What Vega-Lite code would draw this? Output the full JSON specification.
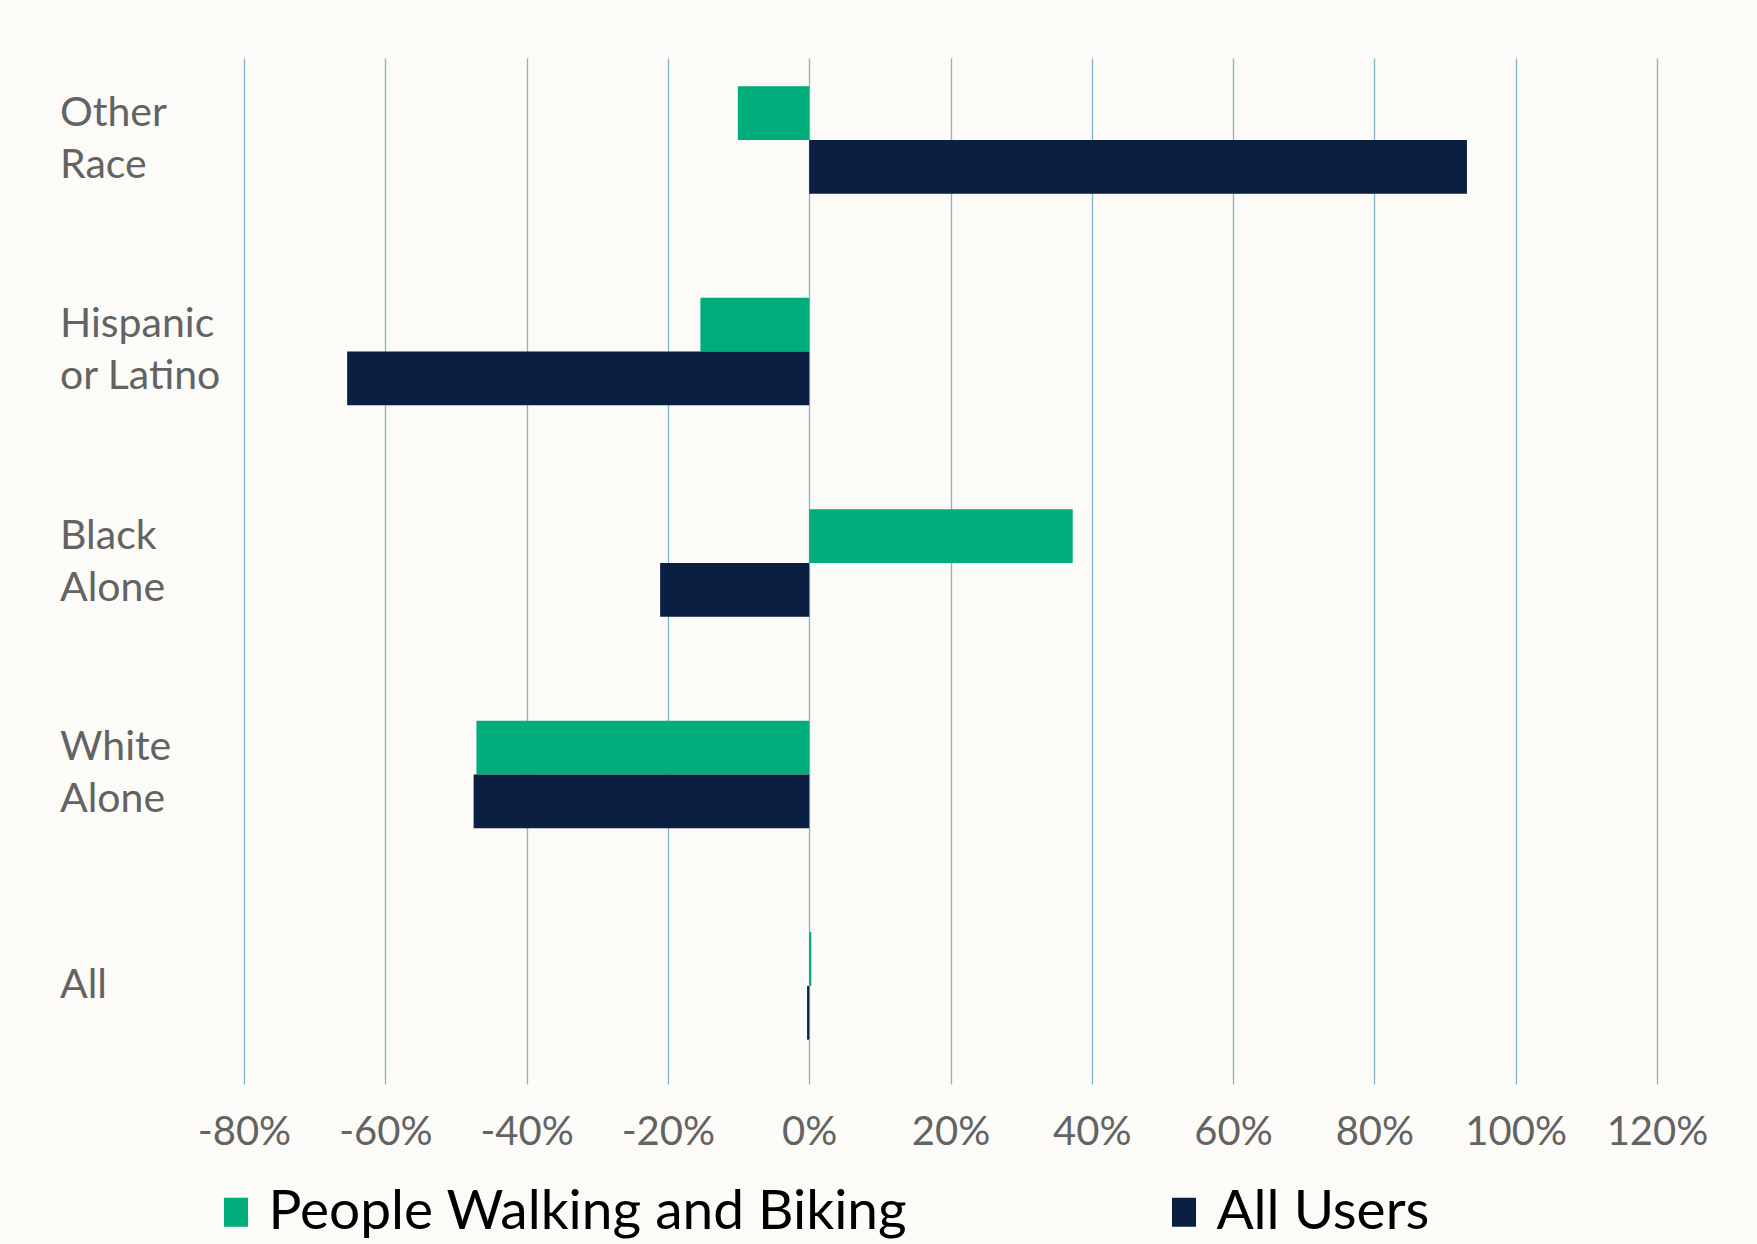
{
  "$schema": "https://vega.github.io/schema/vega-lite/v6.json",
  "autosize": {"type": "none"},
  "width": 1413,
  "height": 1026,
  "padding": {"left": 244, "top": 58, "right": 100, "bottom": 160},
  "background": "#fcfbf7",
  "config": {
    "view": {"stroke": null},
    "font": "Lato"
  },
  "data": {
    "values": [
      {"group": "Other Race", "series": "People Walking and Biking", "value": -10.1},
      {"group": "Other Race", "series": "All Users", "value": 93.1},
      {"group": "Hispanic or Latino", "series": "People Walking and Biking", "value": -15.4},
      {"group": "Hispanic or Latino", "series": "All Users", "value": -65.4},
      {"group": "Black Alone", "series": "People Walking and Biking", "value": 37.3},
      {"group": "Black Alone", "series": "All Users", "value": -21.1},
      {"group": "White Alone", "series": "People Walking and Biking", "value": -47.1},
      {"group": "White Alone", "series": "All Users", "value": -47.5},
      {"group": "All", "series": "People Walking and Biking", "value": 0.3},
      {"group": "All", "series": "All Users", "value": -0.3}
    ]
  },
  "mark": {"type": "bar"},
  "encoding": {
    "y": {
      "field": "group",
      "type": "nominal",
      "sort": ["Other Race", "Hispanic or Latino", "Black Alone", "White Alone", "All"],
      "scale": {"paddingInner": 0.492, "paddingOuter": 0.1716, "align": 0.389},
      "axis": {
        "title": null,
        "domain": false,
        "ticks": false,
        "tickSize": 0,
        "grid": false,
        "labelAlign": "left",
        "labelBaseline": "middle",
        "labelPadding": 184.5,
        "labelFont": "Lato",
        "labelFontSize": 41,
        "labelLineHeight": 52,
        "labelColor": "#636363",
        "labelLimit": 400,
        "labelOffset": {"condition": {"test": "datum.label == 'All'", "value": 0}, "value": -26},
        "labelExpr": "datum.label == 'Hispanic or Latino' ? ['Hispanic', 'or Latino'] : split(datum.label, ' ')"
      }
    },
    "yOffset": {
      "field": "series",
      "type": "nominal",
      "sort": ["People Walking and Biking", "All Users"],
      "scale": {"paddingInner": 0, "paddingOuter": 0}
    },
    "x": {
      "field": "value",
      "type": "quantitative",
      "scale": {"domain": [-80, 120], "nice": false, "zero": false},
      "axis": {
        "title": null,
        "domain": false,
        "ticks": false,
        "tickSize": 0,
        "values": [-80, -60, -40, -20, 0, 20, 40, 60, 80, 100, 120],
        "labelExpr": "datum.value + '%'",
        "labelFont": "Lato",
        "labelFontSize": 40,
        "labelColor": "#636363",
        "labelPadding": 28,
        "labelFlush": false,
        "labelOverlap": false,
        "grid": true,
        "gridColor": "#84b5ca",
        "gridWidth": 1.3
      }
    },
    "color": {
      "field": "series",
      "type": "nominal",
      "sort": ["People Walking and Biking", "All Users"],
      "scale": {
        "domain": ["People Walking and Biking", "All Users"],
        "range": ["#00ad7b", "#0b1f42"]
      },
      "legend": {
        "title": null,
        "orient": "none",
        "direction": "horizontal",
        "legendX": -35.5,
        "legendY": 1126.5,
        "labelFont": "Lato",
        "labelFontSize": 55,
        "labelColor": "#000000",
        "labelOffset": 5,
        "labelLimit": 1000,
        "columnPadding": 249,
        "symbolType": "M-0.83,-1H0.83V1H-0.83Z",
        "symbolSize": 841,
        "symbolStrokeWidth": 0,
        "symbolOpacity": 1
      }
    }
  }
}
